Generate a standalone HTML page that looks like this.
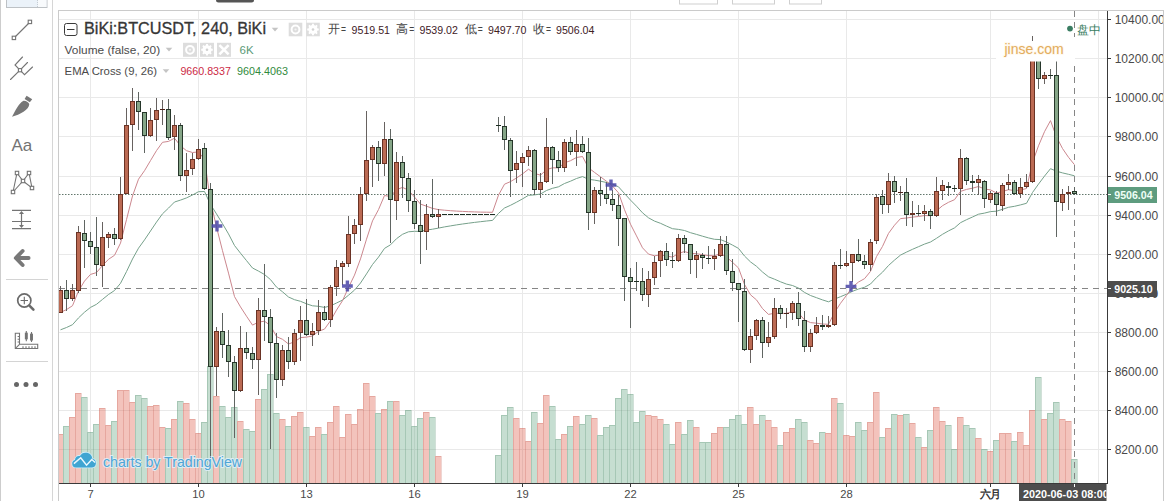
<!DOCTYPE html>
<html><head><meta charset="utf-8"><title>BiKi:BTCUSDT 240</title>
<style>
html,body{margin:0;padding:0;background:#fff;}
body{width:1169px;height:501px;overflow:hidden;font-family:"Liberation Sans",sans-serif;}
svg{display:block;position:absolute;left:0;top:0;}
text{font-family:"Liberation Sans",sans-serif;}
</style></head>
<body>
<svg width="1169" height="501" viewBox="0 0 1169 501">
<defs><clipPath id="axclip"><rect x="1108" y="11" width="55" height="472"/></clipPath>
<clipPath id="tclip"><rect x="1019" y="484" width="87.5" height="17"/></clipPath>
<clipPath id="plot"><rect x="59" y="11" width="1048.5" height="472.5"/></clipPath></defs>
<rect width="1169" height="501" fill="#fff"/>
<rect x="216" y="-4" width="38" height="6.6" rx="2.5" fill="#555"/>
<g fill="#fff" stroke="#cfcfcf" stroke-width="1"><rect x="679.5" y="-3.5" width="38" height="7.5"/><rect x="732.5" y="-3.5" width="42" height="7.5"/><rect x="789.5" y="-3.5" width="32" height="7.5"/></g>
<rect x="0" y="0" width="1" height="501" fill="#cdcdcd"/>
<rect x="6.5" y="-3.5" width="40.5" height="11" fill="#ebf2f9" stroke="#bdc1c5"/><rect x="38" y="0" width="8.5" height="7" fill="#f8fafc"/>
<path d="M37.5 0V7" stroke="#c5ccd2" stroke-dasharray="1 1"/>
<path d="M52.5 0V501" stroke="#d6d6d6" stroke-width="1" shape-rendering="crispEdges"/>
<g stroke="#d4d4d4" stroke-width="1" shape-rendering="crispEdges"><path d="M6 279.5H48"/><path d="M6 361.5H48"/></g>
<g fill="#fff" stroke="#747474" stroke-width="1.1"><path d="M14 38L30 22"/><rect x="12.2" y="36.2" width="3.4" height="3.4"/><rect x="28.2" y="20.2" width="3.4" height="3.4"/></g>
<g fill="#fff" stroke="#747474" stroke-width="1.1" stroke-linecap="round"><path d="M10.5 79.5L20 70.2M20 70.2L15 65L22.5 57M20 70.2L27.5 62.5M20 70.2L24.5 74.7L32.5 67"/><rect x="18.4" y="68.6" width="3.2" height="3.2"/></g>
<g fill="#777"><path d="M12 116.7C16 110 18 104 23.5 100.8C26 100.6 28.3 102 29.3 104C29 110 20 114.5 12 116.7Z"/><path d="M26.6 95.8L32.2 99.3L29.8 102.3L24.6 99Z"/></g>
<text x="11.5" y="150.6" font-family="Liberation Sans, sans-serif" font-size="17" fill="#737373">Aa</text>
<g fill="#fff" stroke="#747474" stroke-width="1.1"><path d="M13 192L17 173L23 181L29 173L32 188L23 181Z" fill="none"/><rect x="11.3" y="190.3" width="3.4" height="3.4"/><rect x="15.3" y="171.3" width="3.4" height="3.4"/><rect x="21.3" y="179.3" width="3.4" height="3.4"/><rect x="27.3" y="171.3" width="3.4" height="3.4"/><rect x="30.3" y="186.3" width="3.4" height="3.4"/></g>
<g stroke="#747474" stroke-width="1.2" fill="#747474"><path d="M12 210.4H31M12 221.5H31M12 228.6H31M21.5 212V227"/><path d="M21.5 210.9L24 214H19Z" stroke="none"/><path d="M21.5 228.1L24 225H19Z" stroke="none"/></g>
<path d="M22.6 251L15.8 258L22.6 265M16.5 258H28.6" fill="none" stroke="#787878" stroke-width="3.9" stroke-linecap="round" stroke-linejoin="round"/>
<g fill="none" stroke="#6a6a6a"><circle cx="24.3" cy="300.5" r="6.6" stroke-width="1.7"/><path d="M20.6 300.5H28M24.3 296.8V304.2" stroke-width="1.1"/><path d="M29.4 305.6L33.4 309.6" stroke-width="2.6" stroke-linecap="round"/></g>
<g fill="none" stroke="#747474" stroke-width="1.1"><path d="M15.3 333.3H19.5V344.3H37.7V348.5H15.3Z"/><path d="M15.5 348.3L19.5 344.3"/><path d="M17.6 336.5H19.5M17.6 339.3H19.5M17.6 342H19.5M23 346.2V348.5M26 346.2V348.5M29 346.2V348.5M32 346.2V348.5M35 346.2V348.5"/><path d="M26.3 331V341.3M31.5 332V342"/><rect x="25.4" y="333.2" width="1.8" height="5.6" fill="#747474"/><rect x="30.6" y="334.2" width="1.8" height="5.8" fill="#747474"/></g>
<g fill="#666"><circle cx="16.5" cy="384.5" r="2.5"/><circle cx="26" cy="384.5" r="2.5"/><circle cx="35.5" cy="384.5" r="2.5"/></g>
<g clip-path="url(#plot)">
<g stroke="#e9e9e9" stroke-width="1" fill="none" shape-rendering="crispEdges"><path d="M59 19.5H1107"/><path d="M59 58.5H1107"/><path d="M59 97.5H1107"/><path d="M59 136.5H1107"/><path d="M59 176.5H1107"/><path d="M59 215.5H1107"/><path d="M59 254.5H1107"/><path d="M59 293.5H1107"/><path d="M59 332.5H1107"/><path d="M59 371.5H1107"/><path d="M59 410.5H1107"/><path d="M59 449.5H1107"/><path d="M90.5 11V483"/><path d="M198.5 11V483"/><path d="M306.5 11V483"/><path d="M414.5 11V483"/><path d="M522.5 11V483"/><path d="M630.5 11V483"/><path d="M738.5 11V483"/><path d="M846.5 11V483"/><path d="M990.5 11V483"/><path d="M1098.5 11V483"/></g>
<g shape-rendering="crispEdges"><path fill="rgba(222,90,70,0.36)" d="M57 434h6V483h-6ZM69 417h6V483h-6ZM75 393h6V483h-6ZM99 408h6V483h-6ZM105 425h6V483h-6ZM117 390h6V483h-6ZM123 390h6V483h-6ZM129 402h6V483h-6ZM147 406h6V483h-6ZM153 405h6V483h-6ZM159 427h6V483h-6ZM171 419h6V483h-6ZM183 403h6V483h-6ZM189 419h6V483h-6ZM195 433h6V483h-6ZM213 396h6V483h-6ZM237 421h6V483h-6ZM255 399h6V483h-6ZM279 419h6V483h-6ZM291 416h6V483h-6ZM297 412h6V483h-6ZM309 436h6V483h-6ZM315 427h6V483h-6ZM327 422h6V483h-6ZM333 406h6V483h-6ZM339 437h6V483h-6ZM345 414h6V483h-6ZM351 424h6V483h-6ZM357 409h6V483h-6ZM363 383h6V483h-6ZM369 396h6V483h-6ZM381 409h6V483h-6ZM393 401h6V483h-6ZM423 412h6V483h-6ZM435 456h6V483h-6ZM513 418h6V483h-6ZM519 428h6V483h-6ZM525 441h6V483h-6ZM537 423h6V483h-6ZM543 395h6V483h-6ZM561 434h6V483h-6ZM573 416h6V483h-6ZM591 418h6V483h-6ZM645 415h6V483h-6ZM651 416h6V483h-6ZM657 419h6V483h-6ZM675 422h6V483h-6ZM693 427h6V483h-6ZM711 433h6V483h-6ZM717 427h6V483h-6ZM747 407h6V483h-6ZM753 424h6V483h-6ZM765 420h6V483h-6ZM771 427h6V483h-6ZM783 432h6V483h-6ZM789 428h6V483h-6ZM807 440h6V483h-6ZM813 443h6V483h-6ZM825 433h6V483h-6ZM831 398h6V483h-6ZM843 435h6V483h-6ZM849 436h6V483h-6ZM867 422h6V483h-6ZM873 392h6V483h-6ZM885 428h6V483h-6ZM897 415h6V483h-6ZM909 423h6V483h-6ZM921 447h6V483h-6ZM933 407h6V483h-6ZM939 421h6V483h-6ZM957 417h6V483h-6ZM975 438h6V483h-6ZM987 451h6V483h-6ZM999 433h6V483h-6ZM1005 433h6V483h-6ZM1017 432h6V483h-6ZM1023 445h6V483h-6ZM1029 410h6V483h-6ZM1041 419h6V483h-6ZM1059 419h6V483h-6ZM1065 421h6V483h-6Z"/><path fill="rgba(100,165,130,0.37)" d="M63 426h6V483h-6ZM81 397h6V483h-6ZM87 432h6V483h-6ZM93 424h6V483h-6ZM111 421h6V483h-6ZM135 395h6V483h-6ZM141 398h6V483h-6ZM165 428h6V483h-6ZM177 401h6V483h-6ZM201 422h6V483h-6ZM207 366h6V483h-6ZM219 406h6V483h-6ZM225 417h6V483h-6ZM231 407h6V483h-6ZM243 429h6V483h-6ZM249 431h6V483h-6ZM261 389h6V483h-6ZM267 374h6V483h-6ZM273 413h6V483h-6ZM285 426h6V483h-6ZM303 427h6V483h-6ZM321 434h6V483h-6ZM375 413h6V483h-6ZM387 401h6V483h-6ZM399 415h6V483h-6ZM405 410h6V483h-6ZM411 426h6V483h-6ZM417 418h6V483h-6ZM429 417h6V483h-6ZM495 455h6V483h-6ZM501 415h6V483h-6ZM507 407h6V483h-6ZM531 412h6V483h-6ZM549 406h6V483h-6ZM555 439h6V483h-6ZM567 426h6V483h-6ZM579 424h6V483h-6ZM585 415h6V483h-6ZM597 435h6V483h-6ZM603 427h6V483h-6ZM609 425h6V483h-6ZM615 398h6V483h-6ZM621 389h6V483h-6ZM627 394h6V483h-6ZM633 422h6V483h-6ZM639 411h6V483h-6ZM663 424h6V483h-6ZM669 444h6V483h-6ZM681 434h6V483h-6ZM687 420h6V483h-6ZM699 442h6V483h-6ZM705 442h6V483h-6ZM723 427h6V483h-6ZM729 419h6V483h-6ZM735 415h6V483h-6ZM741 424h6V483h-6ZM759 415h6V483h-6ZM777 445h6V483h-6ZM795 419h6V483h-6ZM801 422h6V483h-6ZM819 432h6V483h-6ZM837 403h6V483h-6ZM855 422h6V483h-6ZM861 430h6V483h-6ZM879 437h6V483h-6ZM891 414h6V483h-6ZM903 414h6V483h-6ZM915 437h6V483h-6ZM927 430h6V483h-6ZM945 425h6V483h-6ZM951 449h6V483h-6ZM963 425h6V483h-6ZM969 428h6V483h-6ZM981 449h6V483h-6ZM993 440h6V483h-6ZM1011 441h6V483h-6ZM1035 377h6V483h-6ZM1047 413h6V483h-6ZM1053 402h6V483h-6ZM1071 459h6V483h-6Z"/><path fill="rgba(190,80,66,0.24)" d="M57 434h1V483h-1ZM58 434h5v1h-5ZM69 417h1V483h-1ZM70 417h5v1h-5ZM75 393h1V483h-1ZM76 393h5v1h-5ZM81 393h1V397h-1ZM99 408h1V483h-1ZM100 408h5v1h-5ZM105 408h1V425h-1ZM105 425h1V483h-1ZM106 425h5v1h-5ZM117 390h1V483h-1ZM118 390h5v1h-5ZM123 390h1V483h-1ZM124 390h5v1h-5ZM129 390h1V402h-1ZM129 402h1V483h-1ZM130 402h5v1h-5ZM147 406h1V483h-1ZM148 406h5v1h-5ZM153 405h1V483h-1ZM154 405h5v1h-5ZM159 405h1V427h-1ZM159 427h1V483h-1ZM160 427h5v1h-5ZM165 427h1V428h-1ZM171 419h1V483h-1ZM172 419h5v1h-5ZM183 403h1V483h-1ZM184 403h5v1h-5ZM189 403h1V419h-1ZM189 419h1V483h-1ZM190 419h5v1h-5ZM195 419h1V433h-1ZM195 433h1V483h-1ZM196 433h5v1h-5ZM213 396h1V483h-1ZM214 396h5v1h-5ZM219 396h1V406h-1ZM237 421h1V483h-1ZM238 421h5v1h-5ZM243 421h1V429h-1ZM255 399h1V483h-1ZM256 399h5v1h-5ZM279 419h1V483h-1ZM280 419h5v1h-5ZM285 419h1V426h-1ZM291 416h1V483h-1ZM292 416h5v1h-5ZM297 412h1V483h-1ZM298 412h5v1h-5ZM303 412h1V427h-1ZM309 436h1V483h-1ZM310 436h5v1h-5ZM315 427h1V483h-1ZM316 427h5v1h-5ZM321 427h1V434h-1ZM327 422h1V483h-1ZM328 422h5v1h-5ZM333 406h1V483h-1ZM334 406h5v1h-5ZM339 406h1V437h-1ZM339 437h1V483h-1ZM340 437h5v1h-5ZM345 414h1V483h-1ZM346 414h5v1h-5ZM351 414h1V424h-1ZM351 424h1V483h-1ZM352 424h5v1h-5ZM357 409h1V483h-1ZM358 409h5v1h-5ZM363 383h1V483h-1ZM364 383h5v1h-5ZM369 383h1V396h-1ZM369 396h1V483h-1ZM370 396h5v1h-5ZM375 396h1V413h-1ZM381 409h1V483h-1ZM382 409h5v1h-5ZM393 401h1V483h-1ZM394 401h5v1h-5ZM399 401h1V415h-1ZM423 412h1V483h-1ZM424 412h5v1h-5ZM429 412h1V417h-1ZM435 456h1V483h-1ZM436 456h5v1h-5ZM441 456h1V483h-1ZM513 418h1V483h-1ZM514 418h5v1h-5ZM519 418h1V428h-1ZM519 428h1V483h-1ZM520 428h5v1h-5ZM525 428h1V441h-1ZM525 441h1V483h-1ZM526 441h5v1h-5ZM537 423h1V483h-1ZM538 423h5v1h-5ZM543 395h1V483h-1ZM544 395h5v1h-5ZM549 395h1V406h-1ZM561 434h1V483h-1ZM562 434h5v1h-5ZM573 416h1V483h-1ZM574 416h5v1h-5ZM579 416h1V424h-1ZM591 418h1V483h-1ZM592 418h5v1h-5ZM597 418h1V435h-1ZM645 415h1V483h-1ZM646 415h5v1h-5ZM651 415h1V416h-1ZM651 416h1V483h-1ZM652 416h5v1h-5ZM657 416h1V419h-1ZM657 419h1V483h-1ZM658 419h5v1h-5ZM663 419h1V424h-1ZM675 422h1V483h-1ZM676 422h5v1h-5ZM681 422h1V434h-1ZM693 427h1V483h-1ZM694 427h5v1h-5ZM699 427h1V442h-1ZM711 433h1V483h-1ZM712 433h5v1h-5ZM717 427h1V483h-1ZM718 427h5v1h-5ZM747 407h1V483h-1ZM748 407h5v1h-5ZM753 407h1V424h-1ZM753 424h1V483h-1ZM754 424h5v1h-5ZM765 420h1V483h-1ZM766 420h5v1h-5ZM771 420h1V427h-1ZM771 427h1V483h-1ZM772 427h5v1h-5ZM777 427h1V445h-1ZM783 432h1V483h-1ZM784 432h5v1h-5ZM789 428h1V483h-1ZM790 428h5v1h-5ZM807 440h1V483h-1ZM808 440h5v1h-5ZM813 440h1V443h-1ZM813 443h1V483h-1ZM814 443h5v1h-5ZM825 433h1V483h-1ZM826 433h5v1h-5ZM831 398h1V483h-1ZM832 398h5v1h-5ZM837 398h1V403h-1ZM843 435h1V483h-1ZM844 435h5v1h-5ZM849 435h1V436h-1ZM849 436h1V483h-1ZM850 436h5v1h-5ZM867 422h1V483h-1ZM868 422h5v1h-5ZM873 392h1V483h-1ZM874 392h5v1h-5ZM879 392h1V437h-1ZM885 428h1V483h-1ZM886 428h5v1h-5ZM897 415h1V483h-1ZM898 415h5v1h-5ZM909 423h1V483h-1ZM910 423h5v1h-5ZM915 423h1V437h-1ZM921 447h1V483h-1ZM922 447h5v1h-5ZM933 407h1V483h-1ZM934 407h5v1h-5ZM939 407h1V421h-1ZM939 421h1V483h-1ZM940 421h5v1h-5ZM945 421h1V425h-1ZM957 417h1V483h-1ZM958 417h5v1h-5ZM963 417h1V425h-1ZM975 438h1V483h-1ZM976 438h5v1h-5ZM981 438h1V449h-1ZM987 451h1V483h-1ZM988 451h5v1h-5ZM999 433h1V483h-1ZM1000 433h5v1h-5ZM1005 433h1V483h-1ZM1006 433h5v1h-5ZM1011 433h1V441h-1ZM1017 432h1V483h-1ZM1018 432h5v1h-5ZM1023 432h1V445h-1ZM1023 445h1V483h-1ZM1024 445h5v1h-5ZM1029 410h1V483h-1ZM1030 410h5v1h-5ZM1041 419h1V483h-1ZM1042 419h5v1h-5ZM1059 419h1V483h-1ZM1060 419h5v1h-5ZM1065 419h1V421h-1ZM1065 421h1V483h-1ZM1066 421h5v1h-5ZM1071 421h1V459h-1Z"/><path fill="rgba(70,130,100,0.25)" d="M63 426h1V483h-1ZM64 426h5v1h-5ZM81 397h1V483h-1ZM82 397h5v1h-5ZM87 397h1V432h-1ZM87 432h1V483h-1ZM88 432h5v1h-5ZM93 424h1V483h-1ZM94 424h5v1h-5ZM111 421h1V483h-1ZM112 421h5v1h-5ZM135 395h1V483h-1ZM136 395h5v1h-5ZM141 395h1V398h-1ZM141 398h1V483h-1ZM142 398h5v1h-5ZM147 398h1V406h-1ZM165 428h1V483h-1ZM166 428h5v1h-5ZM177 401h1V483h-1ZM178 401h5v1h-5ZM183 401h1V403h-1ZM201 422h1V483h-1ZM202 422h5v1h-5ZM207 366h1V483h-1ZM208 366h5v1h-5ZM213 366h1V396h-1ZM219 406h1V483h-1ZM220 406h5v1h-5ZM225 406h1V417h-1ZM225 417h1V483h-1ZM226 417h5v1h-5ZM231 407h1V483h-1ZM232 407h5v1h-5ZM237 407h1V421h-1ZM243 429h1V483h-1ZM244 429h5v1h-5ZM249 429h1V431h-1ZM249 431h1V483h-1ZM250 431h5v1h-5ZM261 389h1V483h-1ZM262 389h5v1h-5ZM267 374h1V483h-1ZM268 374h5v1h-5ZM273 374h1V413h-1ZM273 413h1V483h-1ZM274 413h5v1h-5ZM279 413h1V419h-1ZM285 426h1V483h-1ZM286 426h5v1h-5ZM303 427h1V483h-1ZM304 427h5v1h-5ZM309 427h1V436h-1ZM321 434h1V483h-1ZM322 434h5v1h-5ZM375 413h1V483h-1ZM376 413h5v1h-5ZM387 401h1V483h-1ZM388 401h5v1h-5ZM399 415h1V483h-1ZM400 415h5v1h-5ZM405 410h1V483h-1ZM406 410h5v1h-5ZM411 410h1V426h-1ZM411 426h1V483h-1ZM412 426h5v1h-5ZM417 418h1V483h-1ZM418 418h5v1h-5ZM429 417h1V483h-1ZM430 417h5v1h-5ZM435 417h1V456h-1ZM495 455h1V483h-1ZM496 455h5v1h-5ZM501 415h1V483h-1ZM502 415h5v1h-5ZM507 407h1V483h-1ZM508 407h5v1h-5ZM513 407h1V418h-1ZM531 412h1V483h-1ZM532 412h5v1h-5ZM537 412h1V423h-1ZM549 406h1V483h-1ZM550 406h5v1h-5ZM555 406h1V439h-1ZM555 439h1V483h-1ZM556 439h5v1h-5ZM567 426h1V483h-1ZM568 426h5v1h-5ZM579 424h1V483h-1ZM580 424h5v1h-5ZM585 415h1V483h-1ZM586 415h5v1h-5ZM591 415h1V418h-1ZM597 435h1V483h-1ZM598 435h5v1h-5ZM603 427h1V483h-1ZM604 427h5v1h-5ZM609 425h1V483h-1ZM610 425h5v1h-5ZM615 398h1V483h-1ZM616 398h5v1h-5ZM621 389h1V483h-1ZM622 389h5v1h-5ZM627 389h1V394h-1ZM627 394h1V483h-1ZM628 394h5v1h-5ZM633 394h1V422h-1ZM633 422h1V483h-1ZM634 422h5v1h-5ZM639 411h1V483h-1ZM640 411h5v1h-5ZM645 411h1V415h-1ZM663 424h1V483h-1ZM664 424h5v1h-5ZM669 424h1V444h-1ZM669 444h1V483h-1ZM670 444h5v1h-5ZM681 434h1V483h-1ZM682 434h5v1h-5ZM687 420h1V483h-1ZM688 420h5v1h-5ZM693 420h1V427h-1ZM699 442h1V483h-1ZM700 442h5v1h-5ZM705 442h1V483h-1ZM706 442h5v1h-5ZM723 427h1V483h-1ZM724 427h5v1h-5ZM729 419h1V483h-1ZM730 419h5v1h-5ZM735 415h1V483h-1ZM736 415h5v1h-5ZM741 415h1V424h-1ZM741 424h1V483h-1ZM742 424h5v1h-5ZM759 415h1V483h-1ZM760 415h5v1h-5ZM765 415h1V420h-1ZM777 445h1V483h-1ZM778 445h5v1h-5ZM795 419h1V483h-1ZM796 419h5v1h-5ZM801 419h1V422h-1ZM801 422h1V483h-1ZM802 422h5v1h-5ZM807 422h1V440h-1ZM819 432h1V483h-1ZM820 432h5v1h-5ZM825 432h1V433h-1ZM837 403h1V483h-1ZM838 403h5v1h-5ZM843 403h1V435h-1ZM855 422h1V483h-1ZM856 422h5v1h-5ZM861 422h1V430h-1ZM861 430h1V483h-1ZM862 430h5v1h-5ZM879 437h1V483h-1ZM880 437h5v1h-5ZM891 414h1V483h-1ZM892 414h5v1h-5ZM897 414h1V415h-1ZM903 414h1V483h-1ZM904 414h5v1h-5ZM909 414h1V423h-1ZM915 437h1V483h-1ZM916 437h5v1h-5ZM921 437h1V447h-1ZM927 430h1V483h-1ZM928 430h5v1h-5ZM945 425h1V483h-1ZM946 425h5v1h-5ZM951 425h1V449h-1ZM951 449h1V483h-1ZM952 449h5v1h-5ZM963 425h1V483h-1ZM964 425h5v1h-5ZM969 425h1V428h-1ZM969 428h1V483h-1ZM970 428h5v1h-5ZM975 428h1V438h-1ZM981 449h1V483h-1ZM982 449h5v1h-5ZM987 449h1V451h-1ZM993 440h1V483h-1ZM994 440h5v1h-5ZM1011 441h1V483h-1ZM1012 441h5v1h-5ZM1035 377h1V483h-1ZM1036 377h5v1h-5ZM1041 377h1V419h-1ZM1047 413h1V483h-1ZM1048 413h5v1h-5ZM1053 402h1V483h-1ZM1054 402h5v1h-5ZM1059 402h1V419h-1ZM1071 459h1V483h-1ZM1072 459h5v1h-5ZM1077 459h1V483h-1Z"/></g>
<path d="M59 194.5H1108" stroke="#62776c" stroke-width="1" stroke-dasharray="1.5 1.5" fill="none"/>
<path d="M59 288.5H1108" stroke="#858585" stroke-width="1" stroke-dasharray="6 5" fill="none" shape-rendering="crispEdges"/>
<path d="M1074.5 11V37M1074.5 66V483" stroke="#858585" stroke-width="1" stroke-dasharray="6 5" fill="none" shape-rendering="crispEdges"/>
<polyline points="60.5,329.8 66.5,327.5 72.5,324.7 78.5,317.9 84.5,312.2 90.5,307.4 96.5,304.3 102.5,299.4 108.5,294.5 114.5,290.5 120.5,283.3 126.5,271.6 132.5,259.0 138.5,248.2 144.5,239.9 150.5,231.0 156.5,222.1 162.5,213.8 168.5,208.1 174.5,202.0 180.5,200.1 186.5,197.9 192.5,195.0 198.5,191.7 204.5,191.5 210.5,204.5 216.5,213.9 222.5,223.7 228.5,233.9 234.5,245.5 240.5,253.2 246.5,260.6 252.5,268.0 258.5,271.1 264.5,274.5 270.5,279.6 276.5,287.1 282.5,291.8 288.5,297.0 294.5,299.7 300.5,301.3 306.5,303.8 312.5,305.8 318.5,306.3 324.5,307.4 330.5,305.9 336.5,303.0 342.5,300.1 348.5,295.2 354.5,290.1 360.5,283.0 366.5,273.9 372.5,264.5 378.5,257.1 384.5,248.4 390.5,244.8 396.5,238.7 402.5,234.3 408.5,231.8 414.5,231.3 420.5,231.4 426.5,230.1 432.5,229.2 438.5,228.1 444.5,226.9 450.5,225.9 456.5,224.9 462.5,224.0 468.5,223.2 474.5,222.4 480.5,221.7 486.5,221.0 492.5,220.4 498.5,213.4 504.5,208.0 510.5,205.3 516.5,202.2 522.5,198.9 528.5,195.3 534.5,194.9 540.5,194.0 546.5,190.5 552.5,188.3 558.5,186.8 564.5,183.5 570.5,181.2 576.5,178.5 582.5,176.6 588.5,179.3 594.5,180.1 600.5,181.2 606.5,182.5 612.5,184.2 618.5,186.8 624.5,193.5 630.5,200.1 636.5,206.2 642.5,212.8 648.5,217.8 654.5,221.1 660.5,223.3 666.5,226.1 672.5,228.7 678.5,229.4 684.5,230.5 690.5,232.7 696.5,234.4 702.5,236.2 708.5,237.9 714.5,239.3 720.5,239.6 726.5,242.0 732.5,245.1 738.5,248.4 744.5,256.0 750.5,261.9 756.5,266.3 762.5,272.0 768.5,276.8 774.5,279.2 780.5,281.8 786.5,284.1 792.5,285.5 798.5,288.1 804.5,292.4 810.5,295.5 816.5,297.7 822.5,299.9 828.5,301.8 834.5,299.1 840.5,296.7 846.5,294.2 852.5,291.3 858.5,289.0 864.5,287.3 870.5,284.0 876.5,277.6 882.5,272.2 888.5,265.5 894.5,260.1 900.5,255.1 906.5,252.1 912.5,249.3 918.5,246.7 924.5,244.1 930.5,242.0 936.5,238.3 942.5,234.3 948.5,230.9 954.5,227.9 960.5,222.7 966.5,219.7 972.5,217.0 978.5,214.2 984.5,213.1 990.5,211.6 996.5,211.2 1002.5,209.3 1008.5,207.3 1014.5,206.3 1020.5,204.9 1026.5,203.3 1032.5,192.5 1038.5,184.1 1044.5,176.1 1050.5,168.7 1056.5,171.2 1062.5,172.9 1068.5,174.3 1074.5,175.8" fill="none" stroke="#76a08a" stroke-width="1" stroke-linejoin="round"/><polyline points="60.5,312.4 66.5,309.6 72.5,305.7 78.5,291.0 84.5,281.1 90.5,274.4 96.5,272.6 102.5,265.5 108.5,259.3 114.5,255.3 120.5,243.1 126.5,219.6 132.5,196.0 138.5,179.2 144.5,170.7 150.5,160.6 156.5,150.6 162.5,142.3 168.5,141.4 174.5,138.2 180.5,145.8 186.5,150.7 192.5,152.5 198.5,151.9 204.5,159.4 210.5,201.0 216.5,227.1 222.5,250.7 228.5,273.1 234.5,296.6 240.5,306.9 246.5,316.2 252.5,325.1 258.5,322.1 264.5,321.2 270.5,325.6 276.5,336.6 282.5,339.3 288.5,344.0 294.5,341.8 300.5,337.6 306.5,337.1 312.5,336.0 318.5,331.3 324.5,329.1 330.5,320.8 336.5,310.1 342.5,300.7 348.5,287.5 354.5,275.1 360.5,258.9 366.5,239.2 372.5,220.9 378.5,209.6 384.5,195.5 390.5,196.5 396.5,189.7 402.5,187.4 408.5,190.2 414.5,197.1 420.5,204.1 426.5,206.2 432.5,208.4 438.5,209.6 444.5,210.2 450.5,210.7 456.5,211.1 462.5,211.4 468.5,211.7 474.5,211.9 480.5,212.1 486.5,212.2 492.5,212.3 498.5,195.1 504.5,184.2 510.5,181.6 516.5,178.0 522.5,173.9 528.5,169.2 534.5,173.4 540.5,175.2 546.5,169.6 552.5,167.8 558.5,167.9 564.5,162.8 570.5,160.7 576.5,157.5 582.5,156.5 588.5,167.8 594.5,172.4 600.5,176.8 606.5,181.3 612.5,186.1 618.5,192.8 624.5,209.7 630.5,224.2 636.5,235.9 642.5,247.8 648.5,254.1 654.5,255.8 660.5,254.9 666.5,256.0 672.5,257.1 678.5,253.3 684.5,251.6 690.5,253.3 696.5,253.7 702.5,254.7 708.5,255.6 714.5,255.8 720.5,253.5 726.5,257.1 732.5,262.3 738.5,268.0 744.5,284.4 750.5,294.8 756.5,299.9 762.5,308.6 768.5,314.4 774.5,313.2 780.5,313.4 786.5,313.4 792.5,311.4 798.5,313.0 804.5,319.9 810.5,322.6 816.5,323.2 822.5,324.0 828.5,324.3 834.5,312.5 840.5,303.3 846.5,295.3 852.5,287.1 858.5,282.0 864.5,278.7 870.5,271.4 876.5,256.6 882.5,246.4 888.5,233.4 894.5,225.2 900.5,218.6 906.5,218.0 912.5,217.1 918.5,216.5 924.5,215.5 930.5,215.7 936.5,210.8 942.5,205.7 948.5,202.3 954.5,199.7 960.5,191.4 966.5,189.4 972.5,188.2 978.5,186.5 984.5,189.0 990.5,189.9 996.5,193.0 1002.5,191.5 1008.5,189.7 1014.5,190.6 1020.5,190.0 1026.5,188.5 1032.5,162.4 1038.5,145.8 1044.5,131.7 1050.5,120.6 1056.5,137.0 1062.5,148.5 1068.5,157.3 1074.5,164.7" fill="none" stroke="#cb878e" stroke-width="1" stroke-linejoin="round"/>
<g shape-rendering="crispEdges"><rect x="60.0" y="286" width="1" height="4" fill="#676260"/><rect x="58.0" y="290" width="5" height="23" fill="#6a3325"/><rect x="59.0" y="291" width="3" height="21" fill="#bb6a53"/><rect x="66.0" y="280" width="1" height="10" fill="#606562"/><rect x="66.0" y="299" width="1" height="12" fill="#606562"/><rect x="64.0" y="290" width="5" height="9" fill="#26362a"/><rect x="65.0" y="291" width="3" height="7" fill="#86a688"/><rect x="72.0" y="284" width="1" height="6" fill="#676260"/><rect x="72.0" y="299" width="1" height="2" fill="#676260"/><rect x="70.0" y="290" width="5" height="9" fill="#6a3325"/><rect x="71.0" y="291" width="3" height="7" fill="#bb6a53"/><rect x="78.0" y="226" width="1" height="6" fill="#676260"/><rect x="78.0" y="291" width="1" height="2" fill="#676260"/><rect x="76.0" y="232" width="5" height="59" fill="#6a3325"/><rect x="77.0" y="233" width="3" height="57" fill="#bb6a53"/><rect x="84.0" y="220" width="1" height="13" fill="#606562"/><rect x="84.0" y="241" width="1" height="27" fill="#606562"/><rect x="82.0" y="233" width="5" height="8" fill="#26362a"/><rect x="83.0" y="234" width="3" height="6" fill="#86a688"/><rect x="90.0" y="232" width="1" height="9" fill="#606562"/><rect x="90.0" y="247" width="1" height="7" fill="#606562"/><rect x="88.0" y="241" width="5" height="6" fill="#26362a"/><rect x="89.0" y="242" width="3" height="4" fill="#86a688"/><rect x="96.0" y="217" width="1" height="30" fill="#606562"/><rect x="96.0" y="265" width="1" height="11" fill="#606562"/><rect x="94.0" y="247" width="5" height="18" fill="#26362a"/><rect x="95.0" y="248" width="3" height="16" fill="#86a688"/><rect x="102.0" y="222" width="1" height="15" fill="#676260"/><rect x="102.0" y="266" width="1" height="21" fill="#676260"/><rect x="100.0" y="237" width="5" height="29" fill="#6a3325"/><rect x="101.0" y="238" width="3" height="27" fill="#bb6a53"/><rect x="108.0" y="232" width="1" height="2" fill="#676260"/><rect x="108.0" y="238" width="1" height="10" fill="#676260"/><rect x="106.0" y="234" width="5" height="4" fill="#6a3325"/><rect x="107.0" y="235" width="3" height="2" fill="#bb6a53"/><rect x="114.0" y="228" width="1" height="6" fill="#606562"/><rect x="114.0" y="239" width="1" height="6" fill="#606562"/><rect x="112.0" y="234" width="5" height="5" fill="#26362a"/><rect x="113.0" y="235" width="3" height="3" fill="#86a688"/><rect x="120.0" y="177" width="1" height="17" fill="#676260"/><rect x="120.0" y="239" width="1" height="1" fill="#676260"/><rect x="118.0" y="194" width="5" height="45" fill="#6a3325"/><rect x="119.0" y="195" width="3" height="43" fill="#bb6a53"/><rect x="126.0" y="108" width="1" height="17" fill="#676260"/><rect x="124.0" y="125" width="5" height="69" fill="#6a3325"/><rect x="125.0" y="126" width="3" height="67" fill="#bb6a53"/><rect x="132.0" y="88" width="1" height="13" fill="#676260"/><rect x="132.0" y="125" width="1" height="26" fill="#676260"/><rect x="130.0" y="101" width="5" height="24" fill="#6a3325"/><rect x="131.0" y="102" width="3" height="22" fill="#bb6a53"/><rect x="138.0" y="92" width="1" height="9" fill="#606562"/><rect x="138.0" y="112" width="1" height="18" fill="#606562"/><rect x="136.0" y="101" width="5" height="11" fill="#26362a"/><rect x="137.0" y="102" width="3" height="9" fill="#86a688"/><rect x="144.0" y="136" width="1" height="17" fill="#606562"/><rect x="142.0" y="112" width="5" height="24" fill="#26362a"/><rect x="143.0" y="113" width="3" height="22" fill="#86a688"/><rect x="150.0" y="108" width="1" height="12" fill="#676260"/><rect x="150.0" y="136" width="1" height="1" fill="#676260"/><rect x="148.0" y="120" width="5" height="16" fill="#6a3325"/><rect x="149.0" y="121" width="3" height="14" fill="#bb6a53"/><rect x="156.0" y="98" width="1" height="12" fill="#676260"/><rect x="156.0" y="120" width="1" height="21" fill="#676260"/><rect x="154.0" y="110" width="5" height="10" fill="#6a3325"/><rect x="155.0" y="111" width="3" height="8" fill="#bb6a53"/><rect x="162.0" y="100" width="1" height="9" fill="#676260"/><rect x="162.0" y="110" width="1" height="15" fill="#676260"/><rect x="160.0" y="109" width="5" height="1" fill="#4a2118"/><rect x="168.0" y="99" width="1" height="10" fill="#606562"/><rect x="168.0" y="138" width="1" height="2" fill="#606562"/><rect x="166.0" y="109" width="5" height="29" fill="#26362a"/><rect x="167.0" y="110" width="3" height="27" fill="#86a688"/><rect x="174.0" y="115" width="1" height="10" fill="#676260"/><rect x="174.0" y="137" width="1" height="13" fill="#676260"/><rect x="172.0" y="125" width="5" height="12" fill="#6a3325"/><rect x="173.0" y="126" width="3" height="10" fill="#bb6a53"/><rect x="180.0" y="123" width="1" height="2" fill="#606562"/><rect x="180.0" y="176" width="1" height="5" fill="#606562"/><rect x="178.0" y="125" width="5" height="51" fill="#26362a"/><rect x="179.0" y="126" width="3" height="49" fill="#86a688"/><rect x="186.0" y="153" width="1" height="17" fill="#676260"/><rect x="186.0" y="176" width="1" height="16" fill="#676260"/><rect x="184.0" y="170" width="5" height="6" fill="#6a3325"/><rect x="185.0" y="171" width="3" height="4" fill="#bb6a53"/><rect x="192.0" y="153" width="1" height="6" fill="#676260"/><rect x="192.0" y="169" width="1" height="6" fill="#676260"/><rect x="190.0" y="159" width="5" height="10" fill="#6a3325"/><rect x="191.0" y="160" width="3" height="8" fill="#bb6a53"/><rect x="198.0" y="139" width="1" height="10" fill="#676260"/><rect x="198.0" y="159" width="1" height="1" fill="#676260"/><rect x="196.0" y="149" width="5" height="10" fill="#6a3325"/><rect x="197.0" y="150" width="3" height="8" fill="#bb6a53"/><rect x="204.0" y="143" width="1" height="5" fill="#606562"/><rect x="204.0" y="189" width="1" height="1" fill="#606562"/><rect x="202.0" y="148" width="5" height="41" fill="#26362a"/><rect x="203.0" y="149" width="3" height="39" fill="#86a688"/><rect x="210.0" y="183" width="1" height="6" fill="#606562"/><rect x="210.0" y="367" width="1" height="91" fill="#606562"/><rect x="208.0" y="189" width="5" height="178" fill="#26362a"/><rect x="209.0" y="190" width="3" height="176" fill="#86a688"/><rect x="216.0" y="327" width="1" height="4" fill="#676260"/><rect x="216.0" y="367" width="1" height="29" fill="#676260"/><rect x="214.0" y="331" width="5" height="36" fill="#6a3325"/><rect x="215.0" y="332" width="3" height="34" fill="#bb6a53"/><rect x="222.0" y="313" width="1" height="18" fill="#606562"/><rect x="222.0" y="345" width="1" height="13" fill="#606562"/><rect x="220.0" y="331" width="5" height="14" fill="#26362a"/><rect x="221.0" y="332" width="3" height="12" fill="#86a688"/><rect x="228.0" y="330" width="1" height="15" fill="#606562"/><rect x="228.0" y="362" width="1" height="15" fill="#606562"/><rect x="226.0" y="345" width="5" height="17" fill="#26362a"/><rect x="227.0" y="346" width="3" height="15" fill="#86a688"/><rect x="234.0" y="356" width="1" height="6" fill="#606562"/><rect x="234.0" y="391" width="1" height="47" fill="#606562"/><rect x="232.0" y="362" width="5" height="29" fill="#26362a"/><rect x="233.0" y="363" width="3" height="27" fill="#86a688"/><rect x="240.0" y="326" width="1" height="22" fill="#676260"/><rect x="240.0" y="391" width="1" height="1" fill="#676260"/><rect x="238.0" y="348" width="5" height="43" fill="#6a3325"/><rect x="239.0" y="349" width="3" height="41" fill="#bb6a53"/><rect x="246.0" y="332" width="1" height="16" fill="#606562"/><rect x="246.0" y="353" width="1" height="6" fill="#606562"/><rect x="244.0" y="348" width="5" height="5" fill="#26362a"/><rect x="245.0" y="349" width="3" height="3" fill="#86a688"/><rect x="252.0" y="347" width="1" height="6" fill="#606562"/><rect x="252.0" y="360" width="1" height="9" fill="#606562"/><rect x="250.0" y="353" width="5" height="7" fill="#26362a"/><rect x="251.0" y="354" width="3" height="5" fill="#86a688"/><rect x="258.0" y="298" width="1" height="12" fill="#676260"/><rect x="258.0" y="360" width="1" height="35" fill="#676260"/><rect x="256.0" y="310" width="5" height="50" fill="#6a3325"/><rect x="257.0" y="311" width="3" height="48" fill="#bb6a53"/><rect x="264.0" y="264" width="1" height="46" fill="#606562"/><rect x="264.0" y="317" width="1" height="24" fill="#606562"/><rect x="262.0" y="310" width="5" height="7" fill="#26362a"/><rect x="263.0" y="311" width="3" height="5" fill="#86a688"/><rect x="270.0" y="309" width="1" height="8" fill="#606562"/><rect x="270.0" y="343" width="1" height="106" fill="#606562"/><rect x="268.0" y="317" width="5" height="26" fill="#26362a"/><rect x="269.0" y="318" width="3" height="24" fill="#86a688"/><rect x="276.0" y="333" width="1" height="10" fill="#606562"/><rect x="276.0" y="380" width="1" height="18" fill="#606562"/><rect x="274.0" y="343" width="5" height="37" fill="#26362a"/><rect x="275.0" y="344" width="3" height="35" fill="#86a688"/><rect x="282.0" y="345" width="1" height="5" fill="#676260"/><rect x="282.0" y="380" width="1" height="6" fill="#676260"/><rect x="280.0" y="350" width="5" height="30" fill="#6a3325"/><rect x="281.0" y="351" width="3" height="28" fill="#bb6a53"/><rect x="288.0" y="337" width="1" height="13" fill="#606562"/><rect x="288.0" y="362" width="1" height="7" fill="#606562"/><rect x="286.0" y="350" width="5" height="12" fill="#26362a"/><rect x="287.0" y="351" width="3" height="10" fill="#86a688"/><rect x="294.0" y="329" width="1" height="4" fill="#676260"/><rect x="294.0" y="362" width="1" height="3" fill="#676260"/><rect x="292.0" y="333" width="5" height="29" fill="#6a3325"/><rect x="293.0" y="334" width="3" height="27" fill="#bb6a53"/><rect x="300.0" y="306" width="1" height="14" fill="#676260"/><rect x="300.0" y="333" width="1" height="28" fill="#676260"/><rect x="298.0" y="320" width="5" height="13" fill="#6a3325"/><rect x="299.0" y="321" width="3" height="11" fill="#bb6a53"/><rect x="306.0" y="299" width="1" height="21" fill="#606562"/><rect x="306.0" y="335" width="1" height="1" fill="#606562"/><rect x="304.0" y="320" width="5" height="15" fill="#26362a"/><rect x="305.0" y="321" width="3" height="13" fill="#86a688"/><rect x="312.0" y="323" width="1" height="8" fill="#676260"/><rect x="312.0" y="335" width="1" height="11" fill="#676260"/><rect x="310.0" y="331" width="5" height="4" fill="#6a3325"/><rect x="311.0" y="332" width="3" height="2" fill="#bb6a53"/><rect x="318.0" y="300" width="1" height="12" fill="#676260"/><rect x="318.0" y="331" width="1" height="4" fill="#676260"/><rect x="316.0" y="312" width="5" height="19" fill="#6a3325"/><rect x="317.0" y="313" width="3" height="17" fill="#bb6a53"/><rect x="324.0" y="306" width="1" height="6" fill="#606562"/><rect x="324.0" y="320" width="1" height="1" fill="#606562"/><rect x="322.0" y="312" width="5" height="8" fill="#26362a"/><rect x="323.0" y="313" width="3" height="6" fill="#86a688"/><rect x="330.0" y="285" width="1" height="2" fill="#676260"/><rect x="330.0" y="320" width="1" height="7" fill="#676260"/><rect x="328.0" y="287" width="5" height="33" fill="#6a3325"/><rect x="329.0" y="288" width="3" height="31" fill="#bb6a53"/><rect x="336.0" y="260" width="1" height="7" fill="#676260"/><rect x="336.0" y="287" width="1" height="9" fill="#676260"/><rect x="334.0" y="267" width="5" height="20" fill="#6a3325"/><rect x="335.0" y="268" width="3" height="18" fill="#bb6a53"/><rect x="342.0" y="261" width="1" height="2" fill="#676260"/><rect x="342.0" y="267" width="1" height="18" fill="#676260"/><rect x="340.0" y="263" width="5" height="4" fill="#6a3325"/><rect x="341.0" y="264" width="3" height="2" fill="#bb6a53"/><rect x="348.0" y="216" width="1" height="18" fill="#676260"/><rect x="348.0" y="264" width="1" height="3" fill="#676260"/><rect x="346.0" y="234" width="5" height="30" fill="#6a3325"/><rect x="347.0" y="235" width="3" height="28" fill="#bb6a53"/><rect x="354.0" y="219" width="1" height="6" fill="#676260"/><rect x="354.0" y="234" width="1" height="10" fill="#676260"/><rect x="352.0" y="225" width="5" height="9" fill="#6a3325"/><rect x="353.0" y="226" width="3" height="7" fill="#bb6a53"/><rect x="360.0" y="187" width="1" height="7" fill="#676260"/><rect x="360.0" y="225" width="1" height="16" fill="#676260"/><rect x="358.0" y="194" width="5" height="31" fill="#6a3325"/><rect x="359.0" y="195" width="3" height="29" fill="#bb6a53"/><rect x="366.0" y="111" width="1" height="49" fill="#676260"/><rect x="366.0" y="194" width="1" height="7" fill="#676260"/><rect x="364.0" y="160" width="5" height="34" fill="#6a3325"/><rect x="365.0" y="161" width="3" height="32" fill="#bb6a53"/><rect x="372.0" y="145" width="1" height="2" fill="#676260"/><rect x="372.0" y="160" width="1" height="27" fill="#676260"/><rect x="370.0" y="147" width="5" height="13" fill="#6a3325"/><rect x="371.0" y="148" width="3" height="11" fill="#bb6a53"/><rect x="378.0" y="141" width="1" height="6" fill="#606562"/><rect x="378.0" y="164" width="1" height="17" fill="#606562"/><rect x="376.0" y="147" width="5" height="17" fill="#26362a"/><rect x="377.0" y="148" width="3" height="15" fill="#86a688"/><rect x="384.0" y="122" width="1" height="17" fill="#676260"/><rect x="384.0" y="164" width="1" height="12" fill="#676260"/><rect x="382.0" y="139" width="5" height="25" fill="#6a3325"/><rect x="383.0" y="140" width="3" height="23" fill="#bb6a53"/><rect x="390.0" y="129" width="1" height="10" fill="#606562"/><rect x="390.0" y="200" width="1" height="43" fill="#606562"/><rect x="388.0" y="139" width="5" height="61" fill="#26362a"/><rect x="389.0" y="140" width="3" height="59" fill="#86a688"/><rect x="396.0" y="152" width="1" height="10" fill="#676260"/><rect x="396.0" y="201" width="1" height="19" fill="#676260"/><rect x="394.0" y="162" width="5" height="39" fill="#6a3325"/><rect x="395.0" y="163" width="3" height="37" fill="#bb6a53"/><rect x="402.0" y="156" width="1" height="6" fill="#606562"/><rect x="402.0" y="178" width="1" height="20" fill="#606562"/><rect x="400.0" y="162" width="5" height="16" fill="#26362a"/><rect x="401.0" y="163" width="3" height="14" fill="#86a688"/><rect x="408.0" y="173" width="1" height="5" fill="#606562"/><rect x="408.0" y="201" width="1" height="11" fill="#606562"/><rect x="406.0" y="178" width="5" height="23" fill="#26362a"/><rect x="407.0" y="179" width="3" height="21" fill="#86a688"/><rect x="414.0" y="190" width="1" height="11" fill="#606562"/><rect x="414.0" y="224" width="1" height="5" fill="#606562"/><rect x="412.0" y="201" width="5" height="23" fill="#26362a"/><rect x="413.0" y="202" width="3" height="21" fill="#86a688"/><rect x="420.0" y="200" width="1" height="25" fill="#606562"/><rect x="420.0" y="232" width="1" height="32" fill="#606562"/><rect x="418.0" y="225" width="5" height="7" fill="#26362a"/><rect x="419.0" y="226" width="3" height="5" fill="#86a688"/><rect x="426.0" y="204" width="1" height="10" fill="#676260"/><rect x="426.0" y="232" width="1" height="18" fill="#676260"/><rect x="424.0" y="214" width="5" height="18" fill="#6a3325"/><rect x="425.0" y="215" width="3" height="16" fill="#bb6a53"/><rect x="432.0" y="179" width="1" height="35" fill="#606562"/><rect x="432.0" y="217" width="1" height="1" fill="#606562"/><rect x="430.0" y="214" width="5" height="3" fill="#26362a"/><rect x="431.0" y="215" width="3" height="1" fill="#86a688"/><rect x="438.0" y="209" width="1" height="5" fill="#676260"/><rect x="438.0" y="217" width="1" height="11" fill="#676260"/><rect x="436.0" y="214" width="5" height="3" fill="#6a3325"/><rect x="437.0" y="215" width="3" height="1" fill="#bb6a53"/><rect x="442.0" y="214" width="5" height="1" fill="#1d2f24"/><rect x="448.0" y="214" width="5" height="1" fill="#1d2f24"/><rect x="454.0" y="214" width="5" height="1" fill="#1d2f24"/><rect x="460.0" y="214" width="5" height="1" fill="#1d2f24"/><rect x="466.0" y="214" width="5" height="1" fill="#1d2f24"/><rect x="472.0" y="214" width="5" height="1" fill="#1d2f24"/><rect x="478.0" y="214" width="5" height="1" fill="#1d2f24"/><rect x="484.0" y="214" width="5" height="1" fill="#1d2f24"/><rect x="490.0" y="214" width="5" height="1" fill="#1d2f24"/><rect x="498.0" y="117" width="1" height="8" fill="#606562"/><rect x="498.0" y="126" width="1" height="6" fill="#606562"/><rect x="496.0" y="125" width="5" height="1" fill="#1d2e22"/><rect x="504.0" y="116" width="1" height="10" fill="#606562"/><rect x="504.0" y="140" width="1" height="10" fill="#606562"/><rect x="502.0" y="126" width="5" height="14" fill="#26362a"/><rect x="503.0" y="127" width="3" height="12" fill="#86a688"/><rect x="510.0" y="138" width="1" height="2" fill="#606562"/><rect x="510.0" y="171" width="1" height="26" fill="#606562"/><rect x="508.0" y="140" width="5" height="31" fill="#26362a"/><rect x="509.0" y="141" width="3" height="29" fill="#86a688"/><rect x="516.0" y="151" width="1" height="12" fill="#676260"/><rect x="516.0" y="170" width="1" height="13" fill="#676260"/><rect x="514.0" y="163" width="5" height="7" fill="#6a3325"/><rect x="515.0" y="164" width="3" height="5" fill="#bb6a53"/><rect x="522.0" y="153" width="1" height="4" fill="#676260"/><rect x="522.0" y="163" width="1" height="24" fill="#676260"/><rect x="520.0" y="157" width="5" height="6" fill="#6a3325"/><rect x="521.0" y="158" width="3" height="4" fill="#bb6a53"/><rect x="528.0" y="146" width="1" height="4" fill="#676260"/><rect x="528.0" y="157" width="1" height="9" fill="#676260"/><rect x="526.0" y="150" width="5" height="7" fill="#6a3325"/><rect x="527.0" y="151" width="3" height="5" fill="#bb6a53"/><rect x="534.0" y="149" width="1" height="1" fill="#606562"/><rect x="534.0" y="190" width="1" height="5" fill="#606562"/><rect x="532.0" y="150" width="5" height="40" fill="#26362a"/><rect x="533.0" y="151" width="3" height="38" fill="#86a688"/><rect x="540.0" y="173" width="1" height="9" fill="#676260"/><rect x="540.0" y="190" width="1" height="8" fill="#676260"/><rect x="538.0" y="182" width="5" height="8" fill="#6a3325"/><rect x="539.0" y="183" width="3" height="6" fill="#bb6a53"/><rect x="546.0" y="118" width="1" height="29" fill="#676260"/><rect x="546.0" y="182" width="1" height="1" fill="#676260"/><rect x="544.0" y="147" width="5" height="35" fill="#6a3325"/><rect x="545.0" y="148" width="3" height="33" fill="#bb6a53"/><rect x="552.0" y="146" width="1" height="1" fill="#606562"/><rect x="552.0" y="160" width="1" height="24" fill="#606562"/><rect x="550.0" y="147" width="5" height="13" fill="#26362a"/><rect x="551.0" y="148" width="3" height="11" fill="#86a688"/><rect x="558.0" y="151" width="1" height="9" fill="#606562"/><rect x="558.0" y="168" width="1" height="4" fill="#606562"/><rect x="556.0" y="160" width="5" height="8" fill="#26362a"/><rect x="557.0" y="161" width="3" height="6" fill="#86a688"/><rect x="564.0" y="139" width="1" height="3" fill="#676260"/><rect x="564.0" y="168" width="1" height="4" fill="#676260"/><rect x="562.0" y="142" width="5" height="26" fill="#6a3325"/><rect x="563.0" y="143" width="3" height="24" fill="#bb6a53"/><rect x="570.0" y="137" width="1" height="5" fill="#606562"/><rect x="570.0" y="152" width="1" height="3" fill="#606562"/><rect x="568.0" y="142" width="5" height="10" fill="#26362a"/><rect x="569.0" y="143" width="3" height="8" fill="#86a688"/><rect x="576.0" y="130" width="1" height="14" fill="#676260"/><rect x="576.0" y="152" width="1" height="14" fill="#676260"/><rect x="574.0" y="144" width="5" height="8" fill="#6a3325"/><rect x="575.0" y="145" width="3" height="6" fill="#bb6a53"/><rect x="582.0" y="136" width="1" height="8" fill="#606562"/><rect x="582.0" y="152" width="1" height="1" fill="#606562"/><rect x="580.0" y="144" width="5" height="8" fill="#26362a"/><rect x="581.0" y="145" width="3" height="6" fill="#86a688"/><rect x="588.0" y="138" width="1" height="14" fill="#606562"/><rect x="588.0" y="213" width="1" height="17" fill="#606562"/><rect x="586.0" y="152" width="5" height="61" fill="#26362a"/><rect x="587.0" y="153" width="3" height="59" fill="#86a688"/><rect x="594.0" y="187" width="1" height="3" fill="#676260"/><rect x="594.0" y="213" width="1" height="11" fill="#676260"/><rect x="592.0" y="190" width="5" height="23" fill="#6a3325"/><rect x="593.0" y="191" width="3" height="21" fill="#bb6a53"/><rect x="600.0" y="177" width="1" height="13" fill="#606562"/><rect x="600.0" y="194" width="1" height="12" fill="#606562"/><rect x="598.0" y="190" width="5" height="4" fill="#26362a"/><rect x="599.0" y="191" width="3" height="2" fill="#86a688"/><rect x="606.0" y="182" width="1" height="12" fill="#606562"/><rect x="606.0" y="199" width="1" height="5" fill="#606562"/><rect x="604.0" y="194" width="5" height="5" fill="#26362a"/><rect x="605.0" y="195" width="3" height="3" fill="#86a688"/><rect x="612.0" y="190" width="1" height="9" fill="#606562"/><rect x="612.0" y="205" width="1" height="6" fill="#606562"/><rect x="610.0" y="199" width="5" height="6" fill="#26362a"/><rect x="611.0" y="200" width="3" height="4" fill="#86a688"/><rect x="618.0" y="195" width="1" height="10" fill="#606562"/><rect x="618.0" y="219" width="1" height="27" fill="#606562"/><rect x="616.0" y="205" width="5" height="14" fill="#26362a"/><rect x="617.0" y="206" width="3" height="12" fill="#86a688"/><rect x="624.0" y="277" width="1" height="24" fill="#606562"/><rect x="622.0" y="218" width="5" height="59" fill="#26362a"/><rect x="623.0" y="219" width="3" height="57" fill="#86a688"/><rect x="630.0" y="268" width="1" height="9" fill="#606562"/><rect x="630.0" y="282" width="1" height="46" fill="#606562"/><rect x="628.0" y="277" width="5" height="5" fill="#26362a"/><rect x="629.0" y="278" width="3" height="3" fill="#86a688"/><rect x="636.0" y="262" width="1" height="19" fill="#606562"/><rect x="636.0" y="282" width="1" height="9" fill="#606562"/><rect x="634.0" y="281" width="5" height="1" fill="#1d2e22"/><rect x="642.0" y="268" width="1" height="13" fill="#606562"/><rect x="642.0" y="295" width="1" height="6" fill="#606562"/><rect x="640.0" y="281" width="5" height="14" fill="#26362a"/><rect x="641.0" y="282" width="3" height="12" fill="#86a688"/><rect x="648.0" y="271" width="1" height="8" fill="#676260"/><rect x="648.0" y="295" width="1" height="12" fill="#676260"/><rect x="646.0" y="279" width="5" height="16" fill="#6a3325"/><rect x="647.0" y="280" width="3" height="14" fill="#bb6a53"/><rect x="654.0" y="256" width="1" height="6" fill="#676260"/><rect x="654.0" y="278" width="1" height="7" fill="#676260"/><rect x="652.0" y="262" width="5" height="16" fill="#6a3325"/><rect x="653.0" y="263" width="3" height="14" fill="#bb6a53"/><rect x="660.0" y="250" width="1" height="1" fill="#676260"/><rect x="660.0" y="261" width="1" height="16" fill="#676260"/><rect x="658.0" y="251" width="5" height="10" fill="#6a3325"/><rect x="659.0" y="252" width="3" height="8" fill="#bb6a53"/><rect x="666.0" y="243" width="1" height="8" fill="#606562"/><rect x="666.0" y="260" width="1" height="6" fill="#606562"/><rect x="664.0" y="251" width="5" height="9" fill="#26362a"/><rect x="665.0" y="252" width="3" height="7" fill="#86a688"/><rect x="672.0" y="252" width="1" height="8" fill="#606562"/><rect x="672.0" y="261" width="1" height="7" fill="#606562"/><rect x="670.0" y="260" width="5" height="1" fill="#1d2e22"/><rect x="678.0" y="234" width="1" height="4" fill="#676260"/><rect x="678.0" y="261" width="1" height="1" fill="#676260"/><rect x="676.0" y="238" width="5" height="23" fill="#6a3325"/><rect x="677.0" y="239" width="3" height="21" fill="#bb6a53"/><rect x="684.0" y="235" width="1" height="3" fill="#606562"/><rect x="684.0" y="244" width="1" height="9" fill="#606562"/><rect x="682.0" y="238" width="5" height="6" fill="#26362a"/><rect x="683.0" y="239" width="3" height="4" fill="#86a688"/><rect x="690.0" y="260" width="1" height="14" fill="#606562"/><rect x="688.0" y="244" width="5" height="16" fill="#26362a"/><rect x="689.0" y="245" width="3" height="14" fill="#86a688"/><rect x="696.0" y="251" width="1" height="4" fill="#676260"/><rect x="696.0" y="260" width="1" height="18" fill="#676260"/><rect x="694.0" y="255" width="5" height="5" fill="#6a3325"/><rect x="695.0" y="256" width="3" height="3" fill="#bb6a53"/><rect x="702.0" y="253" width="1" height="2" fill="#606562"/><rect x="702.0" y="258" width="1" height="11" fill="#606562"/><rect x="700.0" y="255" width="5" height="3" fill="#26362a"/><rect x="701.0" y="256" width="3" height="1" fill="#86a688"/><rect x="708.0" y="246" width="1" height="12" fill="#606562"/><rect x="708.0" y="259" width="1" height="5" fill="#606562"/><rect x="706.0" y="258" width="5" height="1" fill="#1d2e22"/><rect x="714.0" y="249" width="1" height="7" fill="#676260"/><rect x="714.0" y="259" width="1" height="11" fill="#676260"/><rect x="712.0" y="256" width="5" height="3" fill="#6a3325"/><rect x="713.0" y="257" width="3" height="1" fill="#bb6a53"/><rect x="720.0" y="236" width="1" height="8" fill="#676260"/><rect x="720.0" y="256" width="1" height="1" fill="#676260"/><rect x="718.0" y="244" width="5" height="12" fill="#6a3325"/><rect x="719.0" y="245" width="3" height="10" fill="#bb6a53"/><rect x="726.0" y="236" width="1" height="8" fill="#606562"/><rect x="726.0" y="271" width="1" height="4" fill="#606562"/><rect x="724.0" y="244" width="5" height="27" fill="#26362a"/><rect x="725.0" y="245" width="3" height="25" fill="#86a688"/><rect x="732.0" y="259" width="1" height="12" fill="#606562"/><rect x="732.0" y="283" width="1" height="8" fill="#606562"/><rect x="730.0" y="271" width="5" height="12" fill="#26362a"/><rect x="731.0" y="272" width="3" height="10" fill="#86a688"/><rect x="738.0" y="290" width="1" height="32" fill="#606562"/><rect x="736.0" y="283" width="5" height="7" fill="#26362a"/><rect x="737.0" y="284" width="3" height="5" fill="#86a688"/><rect x="744.0" y="279" width="1" height="12" fill="#606562"/><rect x="744.0" y="350" width="1" height="1" fill="#606562"/><rect x="742.0" y="291" width="5" height="59" fill="#26362a"/><rect x="743.0" y="292" width="3" height="57" fill="#86a688"/><rect x="750.0" y="329" width="1" height="7" fill="#676260"/><rect x="750.0" y="350" width="1" height="13" fill="#676260"/><rect x="748.0" y="336" width="5" height="14" fill="#6a3325"/><rect x="749.0" y="337" width="3" height="12" fill="#bb6a53"/><rect x="756.0" y="319" width="1" height="1" fill="#676260"/><rect x="756.0" y="336" width="1" height="4" fill="#676260"/><rect x="754.0" y="320" width="5" height="16" fill="#6a3325"/><rect x="755.0" y="321" width="3" height="14" fill="#bb6a53"/><rect x="762.0" y="317" width="1" height="3" fill="#606562"/><rect x="762.0" y="343" width="1" height="15" fill="#606562"/><rect x="760.0" y="320" width="5" height="23" fill="#26362a"/><rect x="761.0" y="321" width="3" height="21" fill="#86a688"/><rect x="768.0" y="322" width="1" height="15" fill="#676260"/><rect x="768.0" y="343" width="1" height="4" fill="#676260"/><rect x="766.0" y="337" width="5" height="6" fill="#6a3325"/><rect x="767.0" y="338" width="3" height="4" fill="#bb6a53"/><rect x="774.0" y="298" width="1" height="10" fill="#676260"/><rect x="774.0" y="337" width="1" height="2" fill="#676260"/><rect x="772.0" y="308" width="5" height="29" fill="#6a3325"/><rect x="773.0" y="309" width="3" height="27" fill="#bb6a53"/><rect x="780.0" y="305" width="1" height="3" fill="#606562"/><rect x="780.0" y="314" width="1" height="5" fill="#606562"/><rect x="778.0" y="308" width="5" height="6" fill="#26362a"/><rect x="779.0" y="309" width="3" height="4" fill="#86a688"/><rect x="786.0" y="308" width="1" height="5" fill="#676260"/><rect x="786.0" y="314" width="1" height="14" fill="#676260"/><rect x="784.0" y="313" width="5" height="1" fill="#4a2118"/><rect x="792.0" y="301" width="1" height="2" fill="#676260"/><rect x="792.0" y="313" width="1" height="7" fill="#676260"/><rect x="790.0" y="303" width="5" height="10" fill="#6a3325"/><rect x="791.0" y="304" width="3" height="8" fill="#bb6a53"/><rect x="798.0" y="292" width="1" height="11" fill="#606562"/><rect x="798.0" y="319" width="1" height="7" fill="#606562"/><rect x="796.0" y="303" width="5" height="16" fill="#26362a"/><rect x="797.0" y="304" width="3" height="14" fill="#86a688"/><rect x="804.0" y="311" width="1" height="9" fill="#606562"/><rect x="804.0" y="347" width="1" height="5" fill="#606562"/><rect x="802.0" y="320" width="5" height="27" fill="#26362a"/><rect x="803.0" y="321" width="3" height="25" fill="#86a688"/><rect x="810.0" y="329" width="1" height="4" fill="#676260"/><rect x="810.0" y="347" width="1" height="5" fill="#676260"/><rect x="808.0" y="333" width="5" height="14" fill="#6a3325"/><rect x="809.0" y="334" width="3" height="12" fill="#bb6a53"/><rect x="816.0" y="317" width="1" height="8" fill="#676260"/><rect x="816.0" y="333" width="1" height="1" fill="#676260"/><rect x="814.0" y="325" width="5" height="8" fill="#6a3325"/><rect x="815.0" y="326" width="3" height="6" fill="#bb6a53"/><rect x="822.0" y="315" width="1" height="10" fill="#606562"/><rect x="822.0" y="327" width="1" height="3" fill="#606562"/><rect x="820.0" y="325" width="5" height="2" fill="#26362a"/><rect x="828.0" y="316" width="1" height="9" fill="#676260"/><rect x="828.0" y="327" width="1" height="1" fill="#676260"/><rect x="826.0" y="325" width="5" height="2" fill="#6a3325"/><rect x="834.0" y="262" width="1" height="3" fill="#676260"/><rect x="834.0" y="325" width="1" height="1" fill="#676260"/><rect x="832.0" y="265" width="5" height="60" fill="#6a3325"/><rect x="833.0" y="266" width="3" height="58" fill="#bb6a53"/><rect x="840.0" y="249" width="1" height="16" fill="#606562"/><rect x="840.0" y="266" width="1" height="3" fill="#606562"/><rect x="838.0" y="265" width="5" height="1" fill="#1d2e22"/><rect x="846.0" y="251" width="1" height="12" fill="#676260"/><rect x="846.0" y="266" width="1" height="1" fill="#676260"/><rect x="844.0" y="263" width="5" height="3" fill="#6a3325"/><rect x="845.0" y="264" width="3" height="1" fill="#bb6a53"/><rect x="852.0" y="263" width="1" height="19" fill="#676260"/><rect x="850.0" y="254" width="5" height="9" fill="#6a3325"/><rect x="851.0" y="255" width="3" height="7" fill="#bb6a53"/><rect x="858.0" y="239" width="1" height="15" fill="#606562"/><rect x="858.0" y="261" width="1" height="1" fill="#606562"/><rect x="856.0" y="254" width="5" height="7" fill="#26362a"/><rect x="857.0" y="255" width="3" height="5" fill="#86a688"/><rect x="864.0" y="255" width="1" height="6" fill="#606562"/><rect x="864.0" y="265" width="1" height="4" fill="#606562"/><rect x="862.0" y="261" width="5" height="4" fill="#26362a"/><rect x="863.0" y="262" width="3" height="2" fill="#86a688"/><rect x="870.0" y="239" width="1" height="3" fill="#676260"/><rect x="870.0" y="265" width="1" height="6" fill="#676260"/><rect x="868.0" y="242" width="5" height="23" fill="#6a3325"/><rect x="869.0" y="243" width="3" height="21" fill="#bb6a53"/><rect x="876.0" y="194" width="1" height="3" fill="#676260"/><rect x="876.0" y="241" width="1" height="3" fill="#676260"/><rect x="874.0" y="197" width="5" height="44" fill="#6a3325"/><rect x="875.0" y="198" width="3" height="42" fill="#bb6a53"/><rect x="882.0" y="190" width="1" height="6" fill="#606562"/><rect x="882.0" y="205" width="1" height="9" fill="#606562"/><rect x="880.0" y="196" width="5" height="9" fill="#26362a"/><rect x="881.0" y="197" width="3" height="7" fill="#86a688"/><rect x="888.0" y="173" width="1" height="8" fill="#676260"/><rect x="888.0" y="205" width="1" height="8" fill="#676260"/><rect x="886.0" y="181" width="5" height="24" fill="#6a3325"/><rect x="887.0" y="182" width="3" height="22" fill="#bb6a53"/><rect x="894.0" y="176" width="1" height="5" fill="#606562"/><rect x="894.0" y="192" width="1" height="11" fill="#606562"/><rect x="892.0" y="181" width="5" height="11" fill="#26362a"/><rect x="893.0" y="182" width="3" height="9" fill="#86a688"/><rect x="900.0" y="186" width="1" height="6" fill="#676260"/><rect x="900.0" y="193" width="1" height="8" fill="#676260"/><rect x="898.0" y="192" width="5" height="1" fill="#4a2118"/><rect x="906.0" y="178" width="1" height="14" fill="#606562"/><rect x="906.0" y="215" width="1" height="11" fill="#606562"/><rect x="904.0" y="192" width="5" height="23" fill="#26362a"/><rect x="905.0" y="193" width="3" height="21" fill="#86a688"/><rect x="912.0" y="201" width="1" height="12" fill="#676260"/><rect x="912.0" y="215" width="1" height="12" fill="#676260"/><rect x="910.0" y="213" width="5" height="2" fill="#6a3325"/><rect x="918.0" y="205" width="1" height="8" fill="#606562"/><rect x="918.0" y="214" width="1" height="2" fill="#606562"/><rect x="916.0" y="213" width="5" height="1" fill="#1d2e22"/><rect x="924.0" y="205" width="1" height="6" fill="#676260"/><rect x="924.0" y="214" width="1" height="7" fill="#676260"/><rect x="922.0" y="211" width="5" height="3" fill="#6a3325"/><rect x="923.0" y="212" width="3" height="1" fill="#bb6a53"/><rect x="930.0" y="209" width="1" height="2" fill="#606562"/><rect x="930.0" y="216" width="1" height="13" fill="#606562"/><rect x="928.0" y="211" width="5" height="5" fill="#26362a"/><rect x="929.0" y="212" width="3" height="3" fill="#86a688"/><rect x="936.0" y="177" width="1" height="14" fill="#676260"/><rect x="936.0" y="216" width="1" height="1" fill="#676260"/><rect x="934.0" y="191" width="5" height="25" fill="#6a3325"/><rect x="935.0" y="192" width="3" height="23" fill="#bb6a53"/><rect x="942.0" y="180" width="1" height="5" fill="#676260"/><rect x="942.0" y="191" width="1" height="9" fill="#676260"/><rect x="940.0" y="185" width="5" height="6" fill="#6a3325"/><rect x="941.0" y="186" width="3" height="4" fill="#bb6a53"/><rect x="948.0" y="182" width="1" height="4" fill="#606562"/><rect x="948.0" y="188" width="1" height="8" fill="#606562"/><rect x="946.0" y="186" width="5" height="2" fill="#26362a"/><rect x="954.0" y="185" width="1" height="3" fill="#606562"/><rect x="954.0" y="189" width="1" height="3" fill="#606562"/><rect x="952.0" y="188" width="5" height="1" fill="#1d2e22"/><rect x="960.0" y="149" width="1" height="9" fill="#676260"/><rect x="960.0" y="189" width="1" height="26" fill="#676260"/><rect x="958.0" y="158" width="5" height="31" fill="#6a3325"/><rect x="959.0" y="159" width="3" height="29" fill="#bb6a53"/><rect x="966.0" y="157" width="1" height="1" fill="#606562"/><rect x="966.0" y="181" width="1" height="4" fill="#606562"/><rect x="964.0" y="158" width="5" height="23" fill="#26362a"/><rect x="965.0" y="159" width="3" height="21" fill="#86a688"/><rect x="972.0" y="175" width="1" height="6" fill="#606562"/><rect x="972.0" y="183" width="1" height="9" fill="#606562"/><rect x="970.0" y="181" width="5" height="2" fill="#26362a"/><rect x="978.0" y="175" width="1" height="4" fill="#676260"/><rect x="978.0" y="183" width="1" height="12" fill="#676260"/><rect x="976.0" y="179" width="5" height="4" fill="#6a3325"/><rect x="977.0" y="180" width="3" height="2" fill="#bb6a53"/><rect x="984.0" y="180" width="1" height="1" fill="#606562"/><rect x="984.0" y="199" width="1" height="9" fill="#606562"/><rect x="982.0" y="181" width="5" height="18" fill="#26362a"/><rect x="983.0" y="182" width="3" height="16" fill="#86a688"/><rect x="990.0" y="191" width="1" height="2" fill="#676260"/><rect x="990.0" y="200" width="1" height="3" fill="#676260"/><rect x="988.0" y="193" width="5" height="7" fill="#6a3325"/><rect x="989.0" y="194" width="3" height="5" fill="#bb6a53"/><rect x="996.0" y="191" width="1" height="2" fill="#606562"/><rect x="996.0" y="205" width="1" height="11" fill="#606562"/><rect x="994.0" y="193" width="5" height="12" fill="#26362a"/><rect x="995.0" y="194" width="3" height="10" fill="#86a688"/><rect x="1002.0" y="183" width="1" height="2" fill="#676260"/><rect x="1002.0" y="206" width="1" height="5" fill="#676260"/><rect x="1000.0" y="185" width="5" height="21" fill="#6a3325"/><rect x="1001.0" y="186" width="3" height="19" fill="#bb6a53"/><rect x="1008.0" y="174" width="1" height="8" fill="#676260"/><rect x="1008.0" y="185" width="1" height="5" fill="#676260"/><rect x="1006.0" y="182" width="5" height="3" fill="#6a3325"/><rect x="1007.0" y="183" width="3" height="1" fill="#bb6a53"/><rect x="1014.0" y="180" width="1" height="2" fill="#606562"/><rect x="1014.0" y="194" width="1" height="1" fill="#606562"/><rect x="1012.0" y="182" width="5" height="12" fill="#26362a"/><rect x="1013.0" y="183" width="3" height="10" fill="#86a688"/><rect x="1020.0" y="178" width="1" height="9" fill="#676260"/><rect x="1020.0" y="194" width="1" height="4" fill="#676260"/><rect x="1018.0" y="187" width="5" height="7" fill="#6a3325"/><rect x="1019.0" y="188" width="3" height="5" fill="#bb6a53"/><rect x="1026.0" y="174" width="1" height="8" fill="#676260"/><rect x="1026.0" y="187" width="1" height="1" fill="#676260"/><rect x="1024.0" y="182" width="5" height="5" fill="#6a3325"/><rect x="1025.0" y="183" width="3" height="3" fill="#bb6a53"/><rect x="1032.0" y="36" width="1" height="22" fill="#676260"/><rect x="1032.0" y="182" width="1" height="1" fill="#676260"/><rect x="1030.0" y="58" width="5" height="124" fill="#6a3325"/><rect x="1031.0" y="59" width="3" height="122" fill="#bb6a53"/><rect x="1038.0" y="79" width="1" height="10" fill="#606562"/><rect x="1036.0" y="58" width="5" height="21" fill="#26362a"/><rect x="1037.0" y="59" width="3" height="19" fill="#86a688"/><rect x="1044.0" y="72" width="1" height="3" fill="#676260"/><rect x="1044.0" y="79" width="1" height="5" fill="#676260"/><rect x="1042.0" y="75" width="5" height="4" fill="#6a3325"/><rect x="1043.0" y="76" width="3" height="2" fill="#bb6a53"/><rect x="1050.0" y="69" width="1" height="6" fill="#606562"/><rect x="1050.0" y="76" width="1" height="3" fill="#606562"/><rect x="1048.0" y="75" width="5" height="1" fill="#1d2e22"/><rect x="1056.0" y="61" width="1" height="14" fill="#606562"/><rect x="1056.0" y="202" width="1" height="35" fill="#606562"/><rect x="1054.0" y="75" width="5" height="127" fill="#26362a"/><rect x="1055.0" y="76" width="3" height="125" fill="#86a688"/><rect x="1062.0" y="189" width="1" height="5" fill="#676260"/><rect x="1062.0" y="203" width="1" height="8" fill="#676260"/><rect x="1060.0" y="194" width="5" height="9" fill="#6a3325"/><rect x="1061.0" y="195" width="3" height="7" fill="#bb6a53"/><rect x="1068.0" y="186" width="1" height="6" fill="#676260"/><rect x="1068.0" y="194" width="1" height="16" fill="#676260"/><rect x="1066.0" y="192" width="5" height="2" fill="#6a3325"/><rect x="1074.0" y="187" width="1" height="4" fill="#606562"/><rect x="1074.0" y="194" width="1" height="1" fill="#606562"/><rect x="1072.0" y="191" width="5" height="3" fill="#26362a"/><rect x="1073.0" y="192" width="3" height="1" fill="#86a688"/></g>
</g>
<rect x="996" y="41" width="79" height="20.5" fill="#fff"/>
<text x="1004.5" y="54" font-family="Liberation Sans, sans-serif" font-size="14" fill="#e2ac5e" style="paint-order:stroke" stroke="#fff8ea" stroke-width="1.6">jinse.com</text>
<g stroke="#4a46a8" stroke-width="3.4" opacity="0.85"><path d="M211.6 226H222.4M217 220.6V231.4"/></g>
<g stroke="#4a46a8" stroke-width="3.4" opacity="0.85"><path d="M342.0 286H352.79999999999995M347.4 280.6V291.4"/></g>
<g stroke="#4a46a8" stroke-width="3.4" opacity="0.85"><path d="M605.6 185H616.4M611 179.6V190.4"/></g>
<g stroke="#4a46a8" stroke-width="3.4" opacity="0.85"><path d="M845.6 286.4H856.4M851 281.0V291.79999999999995"/></g>
<circle cx="1070" cy="28.6" r="2.9" fill="#3a7d62"/>
<text x="1077" y="33.6" font-family="'Liberation Sans', 'Noto Sans CJK SC', sans-serif" font-size="12" fill="#3a7d62">盘中</text>
<path d="M58.5 501V10.5H1163.5V501" fill="none" stroke="#cbcbcb" stroke-width="1" shape-rendering="crispEdges"/>
<path d="M1107.5 11V483.5" stroke="#3a3a3a" stroke-width="1" shape-rendering="crispEdges"/>
<path d="M59 483.5H1108" stroke="#3a3a3a" stroke-width="1" shape-rendering="crispEdges"/>
<g font-family="Liberation Sans, sans-serif" font-size="12" fill="#4a4a4a" clip-path="url(#axclip)"><rect x="1108" y="19" width="3" height="1" fill="#3a3a3a"/><text x="1114.7" y="23.7">10400.00</text><rect x="1108" y="58" width="3" height="1" fill="#3a3a3a"/><text x="1114.7" y="62.7">10200.00</text><rect x="1108" y="97" width="3" height="1" fill="#3a3a3a"/><text x="1114.7" y="101.7">10000.00</text><rect x="1108" y="136" width="3" height="1" fill="#3a3a3a"/><text x="1114.7" y="140.7">9800.00</text><rect x="1108" y="176" width="3" height="1" fill="#3a3a3a"/><text x="1114.7" y="180.7">9600.00</text><rect x="1108" y="215" width="3" height="1" fill="#3a3a3a"/><text x="1114.7" y="219.7">9400.00</text><rect x="1108" y="254" width="3" height="1" fill="#3a3a3a"/><text x="1114.7" y="258.7">9200.00</text><rect x="1108" y="293" width="3" height="1" fill="#3a3a3a"/><text x="1114.7" y="297.7">9000.00</text><rect x="1108" y="332" width="3" height="1" fill="#3a3a3a"/><text x="1114.7" y="336.7">8800.00</text><rect x="1108" y="371" width="3" height="1" fill="#3a3a3a"/><text x="1114.7" y="375.7">8600.00</text><rect x="1108" y="410" width="3" height="1" fill="#3a3a3a"/><text x="1114.7" y="414.7">8400.00</text><rect x="1108" y="449" width="3" height="1" fill="#3a3a3a"/><text x="1114.7" y="453.7">8200.00</text></g>
<rect x="1108" y="187" width="49" height="16" fill="#5e9c7f"/><rect x="1108" y="194" width="3" height="1" fill="#fff"/>
<text x="1114.3" y="199" font-family="Liberation Sans, sans-serif" font-size="10.6" font-weight="bold" fill="#effff6">9506.04</text>
<rect x="1108" y="281" width="49" height="16" fill="#4d4d4d"/><rect x="1108" y="288" width="3" height="1" fill="#fff"/>
<text x="1114.3" y="293" font-family="Liberation Sans, sans-serif" font-size="10.6" font-weight="bold" fill="#fff">9025.10</text>
<g font-family="Liberation Sans, sans-serif" font-size="11.2" fill="#4a4a4a"><rect x="90" y="484" width="1" height="3" fill="#3a3a3a"/><text x="90.5" y="498" text-anchor="middle">7</text><rect x="198" y="484" width="1" height="3" fill="#3a3a3a"/><text x="198.5" y="498" text-anchor="middle">10</text><rect x="306" y="484" width="1" height="3" fill="#3a3a3a"/><text x="306.5" y="498" text-anchor="middle">13</text><rect x="414" y="484" width="1" height="3" fill="#3a3a3a"/><text x="414.5" y="498" text-anchor="middle">16</text><rect x="522" y="484" width="1" height="3" fill="#3a3a3a"/><text x="522.5" y="498" text-anchor="middle">19</text><rect x="630" y="484" width="1" height="3" fill="#3a3a3a"/><text x="630.5" y="498" text-anchor="middle">22</text><rect x="738" y="484" width="1" height="3" fill="#3a3a3a"/><text x="738.5" y="498" text-anchor="middle">25</text><rect x="846" y="484" width="1" height="3" fill="#3a3a3a"/><text x="846.5" y="498" text-anchor="middle">28</text><rect x="990" y="484" width="1" height="3" fill="#3a3a3a"/></g>
<text x="979.5" y="498.3" font-family="'Liberation Sans', 'Noto Sans CJK SC', sans-serif" font-size="11" font-weight="bold" fill="#333" textLength="21.8" lengthAdjust="spacing">六月</text>
<rect x="1019" y="484" width="87.5" height="17" fill="#4d4d4d"/><rect x="1074" y="484" width="1" height="3" fill="#fff"/>
<text x="1023" y="497.5" font-family="Liberation Sans, sans-serif" font-size="10.8" font-weight="bold" fill="#fff" clip-path="url(#tclip)">2020-06-03 08:00</text>
<rect x="64.5" y="23.5" width="12.5" height="12" rx="2" fill="#fff" stroke="#3a3a3a" stroke-width="1"/><path d="M67 29.5H74.5" stroke="#3a3a3a" stroke-width="1"/>
<text x="84" y="34.3" font-family="Liberation Sans, sans-serif" font-size="16" fill="#363636" stroke="#363636" stroke-width="0.3" textLength="182" lengthAdjust="spacingAndGlyphs">BiKi:BTCUSDT, 240, BiKi</text>
<path d="M271.7 27.8H278.3L275 31.4Z" fill="#c4c4c4"/>
<path d="M165.7 47.8H172.3L169 51.4Z" fill="#c4c4c4"/>
<path d="M162.7 69.3H169.3L166 72.9Z" fill="#c4c4c4"/>
<rect x="288.7" y="22.7" width="13.6" height="13.6" fill="#dddddd"/><circle cx="295.5" cy="29.5" r="3.9" fill="none" stroke="#fff" stroke-width="2"/><circle cx="295.5" cy="29.5" r="1.1" fill="#f4f4f4"/>
<rect x="306.2" y="22.7" width="13.6" height="13.6" fill="#dddddd"/><circle cx="313.0" cy="29.5" r="3.3" fill="none" stroke="#fff" stroke-width="2.6"/><path d="M313.0 23.7V35.3M307.2 29.5H318.8M308.9 25.4L317.1 33.6M308.9 33.6L317.1 25.4" stroke="#fff" stroke-width="1.9"/><circle cx="313.0" cy="29.5" r="1.3" fill="#d2d2d2"/>
<rect x="183" y="42.8" width="14" height="14" fill="#dddddd"/><circle cx="190.0" cy="49.8" r="3.9" fill="none" stroke="#fff" stroke-width="2"/><circle cx="190.0" cy="49.8" r="1.1" fill="#f4f4f4"/>
<rect x="200" y="42.8" width="14" height="14" fill="#dddddd"/><circle cx="207.0" cy="49.8" r="3.3" fill="none" stroke="#fff" stroke-width="2.6"/><path d="M207.0 44.0V55.599999999999994M201.2 49.8H212.8M202.9 45.699999999999996L211.1 53.9M202.9 53.9L211.1 45.699999999999996" stroke="#fff" stroke-width="1.9"/><circle cx="207.0" cy="49.8" r="1.3" fill="#d2d2d2"/>
<rect x="217" y="42.8" width="14" height="14" fill="#dddddd"/><path d="M219.4 45.199999999999996L228.6 54.4M219.4 54.4L228.6 45.199999999999996" stroke="#fff" stroke-width="2.6"/>
<text x="328" y="33.4" font-family="'Liberation Sans', 'Noto Sans CJK SC', sans-serif" font-size="11.5" fill="#444">开</text>
<text x="340.9" y="33.4" font-family="Liberation Sans, sans-serif" font-size="10" fill="#444" textLength="5" lengthAdjust="spacingAndGlyphs">=</text>
<text x="351.6" y="33.8" font-family="Liberation Sans, sans-serif" font-size="11.5" fill="#40201f" textLength="38.4" lengthAdjust="spacingAndGlyphs">9519.51</text>
<text x="396.4" y="33.4" font-family="'Liberation Sans', 'Noto Sans CJK SC', sans-serif" font-size="11.5" fill="#444">高</text>
<text x="409.29999999999995" y="33.4" font-family="Liberation Sans, sans-serif" font-size="10" fill="#444" textLength="5" lengthAdjust="spacingAndGlyphs">=</text>
<text x="419.5" y="33.8" font-family="Liberation Sans, sans-serif" font-size="11.5" fill="#40201f" textLength="38.4" lengthAdjust="spacingAndGlyphs">9539.02</text>
<text x="464.8" y="33.4" font-family="'Liberation Sans', 'Noto Sans CJK SC', sans-serif" font-size="11.5" fill="#444">低</text>
<text x="477.7" y="33.4" font-family="Liberation Sans, sans-serif" font-size="10" fill="#444" textLength="5" lengthAdjust="spacingAndGlyphs">=</text>
<text x="488" y="33.8" font-family="Liberation Sans, sans-serif" font-size="11.5" fill="#40201f" textLength="38.4" lengthAdjust="spacingAndGlyphs">9497.70</text>
<text x="533.2" y="33.4" font-family="'Liberation Sans', 'Noto Sans CJK SC', sans-serif" font-size="11.5" fill="#444">收</text>
<text x="546.1" y="33.4" font-family="Liberation Sans, sans-serif" font-size="10" fill="#444" textLength="5" lengthAdjust="spacingAndGlyphs">=</text>
<text x="556" y="33.8" font-family="Liberation Sans, sans-serif" font-size="11.5" fill="#40201f" textLength="38.4" lengthAdjust="spacingAndGlyphs">9506.04</text>
<text x="64.6" y="54" font-family="Liberation Sans, sans-serif" font-size="11.5" fill="#4a4a4a" textLength="95.5" lengthAdjust="spacingAndGlyphs">Volume (false, 20)</text>
<text x="239.6" y="54" font-family="Liberation Sans, sans-serif" font-size="11.5" fill="#5b9a78">6K</text>
<text x="64.6" y="75" font-family="Liberation Sans, sans-serif" font-size="11.5" fill="#4a4a4a" textLength="92.5" lengthAdjust="spacingAndGlyphs">EMA Cross (9, 26)</text>
<text x="180.4" y="75" font-family="Liberation Sans, sans-serif" font-size="11.5" fill="#cc2a45" textLength="50.6" lengthAdjust="spacingAndGlyphs">9660.8337</text>
<text x="237" y="75" font-family="Liberation Sans, sans-serif" font-size="11.5" fill="#2f8a3c" textLength="51" lengthAdjust="spacingAndGlyphs">9604.4063</text>
<g transform="translate(-2.2 -2.3) scale(1.004)"><path d="M77.5 468H93.4a4.5 4.5 0 0 0 .7-8.9a6.6 6.6 0 0 0-12.3-2.6a3.9 3.9 0 0 0-4.9 3.9a3.9 3.9 0 0 0 .6 7.6Z" fill="#3fa5d2" stroke="#cdeefb" stroke-width="1.5" paint-order="stroke"/><path d="M75.8 464L82.6 458.2L88.4 465.6L93.6 460L97 463" fill="none" stroke="#e9f8ff" stroke-width="1.5"/></g>
<text x="103" y="467.4" font-family="Liberation Sans, sans-serif" font-size="14.3" fill="#4fa5d6" stroke="#e2f2fa" stroke-width="1.8" stroke-opacity="0.85" paint-order="stroke" textLength="139" lengthAdjust="spacingAndGlyphs">charts by TradingView</text>
</svg>
</body></html>
